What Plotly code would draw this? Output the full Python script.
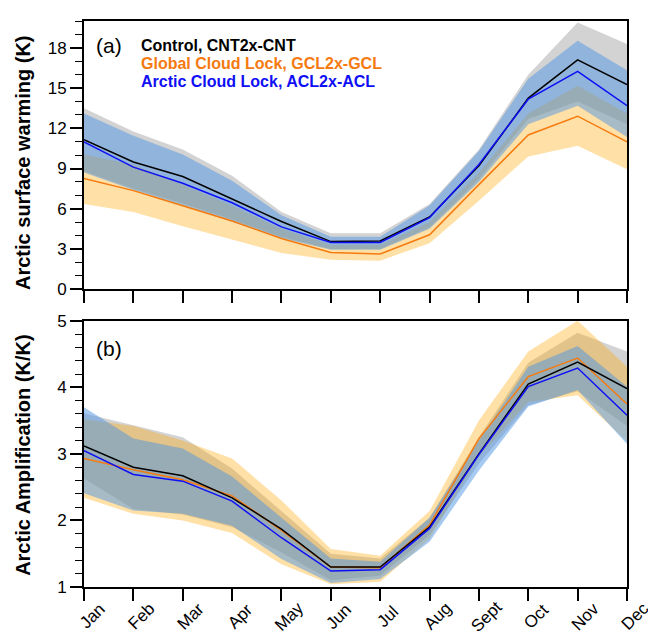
import plotly.graph_objects as go

months = ["Jan", "Feb", "Mar", "Apr", "May", "Jun", "Jul", "Aug", "Sept", "Oct", "Nov", "Dec"]
x = list(range(len(months)))

# Panel (a): Arctic surface warming (K)
cnt_a = [11.15, 9.49, 8.4, 6.75, 5.05, 3.55, 3.6, 5.39, 9.2, 14.25, 17.1, 15.25]
acl_a = [10.98, 9.1, 7.9, 6.45, 4.65, 3.48, 3.48, 5.34, 9.3, 14.17, 16.25, 13.68]
gcl_a = [8.26, 7.35, 6.22, 5.08, 3.78, 2.74, 2.62, 4.06, 7.8, 11.5, 12.9, 10.98]

cnt_a_hi = [13.5, 11.76, 10.42, 8.46, 5.76, 4.17, 4.17, 6.35, 10.42, 16.0, 19.88, 18.28]
cnt_a_lo = [8.8, 7.5, 6.4, 5.2, 3.9, 3.0, 3.0, 4.6, 8.2, 12.7, 14.0, 12.3]
acl_a_hi = [13.1, 11.45, 10.05, 8.09, 5.51, 3.92, 3.92, 6.25, 10.3, 15.7, 18.53, 16.32]
acl_a_lo = [8.7, 7.4, 6.25, 5.05, 3.8, 2.94, 2.94, 4.5, 8.0, 12.3, 13.68, 11.35]
gcl_a_hi = [10.05, 9.3, 7.8, 6.25, 4.5, 3.31, 3.31, 5.02, 8.7, 13.1, 15.17, 13.1]
gcl_a_lo = [6.35, 5.76, 4.7, 3.68, 2.7, 2.2, 2.13, 3.43, 6.6, 9.9, 10.69, 8.95]

# Panel (b): Arctic Amplification (K/K)
cnt_b = [3.12, 2.80, 2.67, 2.34, 1.87, 1.30, 1.30, 1.90, 3.0, 4.05, 4.38, 3.98]
gcl_b = [2.93, 2.76, 2.61, 2.37, 1.85, 1.30, 1.29, 1.93, 3.23, 4.16, 4.44, 3.75]
acl_b = [3.05, 2.69, 2.59, 2.29, 1.74, 1.24, 1.26, 1.88, 2.99, 4.01, 4.29, 3.58]

cnt_b_hi = [3.61, 3.43, 3.25, 2.78, 2.14, 1.50, 1.43, 2.04, 3.25, 4.37, 4.82, 4.54]
cnt_b_lo = [2.63, 2.17, 2.09, 1.90, 1.52, 1.10, 1.17, 1.78, 2.85, 3.73, 3.94, 3.42]
gcl_b_hi = [3.52, 3.42, 3.20, 2.93, 2.30, 1.57, 1.47, 2.14, 3.50, 4.54, 5.0, 4.31]
gcl_b_lo = [2.34, 2.10, 2.00, 1.81, 1.34, 1.04, 1.08, 1.72, 2.96, 3.78, 3.88, 3.19]
acl_b_hi = [3.70, 3.23, 3.08, 2.66, 2.04, 1.43, 1.38, 2.04, 3.20, 4.31, 4.62, 4.01]
acl_b_lo = [2.41, 2.15, 2.10, 1.92, 1.42, 1.06, 1.12, 1.68, 2.75, 3.71, 3.96, 3.15]

GRAY_FILL = "rgba(128,128,128,0.35)"
ORANGE_FILL = "rgba(255,165,0,0.35)"
BLUE_FILL = "rgba(78,150,228,0.5)"
BLACK = "black"
ORANGE = "rgb(245,122,15)"
BLUE = "rgb(15,15,245)"

FONT = "Liberation Sans, Arial, Helvetica, sans-serif"

fig = go.Figure()


def band(lo, hi, color, xa, ya):
    fig.add_trace(go.Scatter(x=x, y=lo, mode="lines", line=dict(width=0), hoverinfo="skip",
                             showlegend=False, xaxis=xa, yaxis=ya))
    fig.add_trace(go.Scatter(x=x, y=hi, mode="lines", line=dict(width=0), fill="tonexty",
                             fillcolor=color, hoverinfo="skip", showlegend=False, xaxis=xa, yaxis=ya))


def line(y, color, xa, ya):
    fig.add_trace(go.Scatter(x=x, y=y, mode="lines", line=dict(color=color, width=1.5),
                             showlegend=False, xaxis=xa, yaxis=ya))


band(cnt_a_lo, cnt_a_hi, GRAY_FILL, "x", "y")
band(gcl_a_lo, gcl_a_hi, ORANGE_FILL, "x", "y")
band(acl_a_lo, acl_a_hi, BLUE_FILL, "x", "y")
line(gcl_a, ORANGE, "x", "y")
line(cnt_a, BLACK, "x", "y")
line(acl_a, BLUE, "x", "y")

band(cnt_b_lo, cnt_b_hi, GRAY_FILL, "x2", "y2")
band(gcl_b_lo, gcl_b_hi, ORANGE_FILL, "x2", "y2")
band(acl_b_lo, acl_b_hi, BLUE_FILL, "x2", "y2")
line(gcl_b, ORANGE, "x2", "y2")
line(cnt_b, BLACK, "x2", "y2")
line(acl_b, BLUE, "x2", "y2")

H = 635
W = 648
MT, MB, ML, MR = 13, 48, 84, 21
PH = H - MT - MB
PW = W - ML - MR


def py(pix):
    return (H - MB - pix) / PH


def px(pix):
    return (pix - ML) / PW


xaxis_common = dict(range=[0, 11], tickvals=x, showticklabels=False, ticks="outside", ticklen=12,
                    tickwidth=1.5, tickcolor="black", showline=True, linewidth=2, linecolor="black",
                    mirror=True, showgrid=False, zeroline=False, fixedrange=True)

yaxis_common = dict(ticks="outside", ticklen=12, tickwidth=1.5, tickcolor="black", showline=True,
                    linewidth=2, linecolor="black", mirror=True, showgrid=False, zeroline=False,
                    tickfont=dict(family=FONT, size=17, color="black"))

fig.update_layout(
    width=W, height=H,
    margin=dict(l=ML, r=MR, t=MT, b=MB),
    paper_bgcolor="white", plot_bgcolor="white",
    font=dict(family=FONT, color="black"),
    xaxis=dict(domain=[0, 1], anchor="y", **xaxis_common),
    xaxis2=dict(domain=[0, 1], anchor="y2", **xaxis_common),
    yaxis=dict(domain=[py(285), 1.0], range=[0, 20], tick0=0, dtick=3,
               minor=dict(ticks="outside", ticklen=7, tickwidth=1, tickcolor="black", dtick=1, tick0=0),
               **yaxis_common),
    yaxis2=dict(domain=[0, py(317)], range=[1, 5], tick0=1, dtick=1,
                minor=dict(ticks="outside", ticklen=7, tickwidth=1, tickcolor="black", dtick=0.2, tick0=1),
                **yaxis_common),
)

ann = []
ann.append(dict(text="<b>Arctic surface warming (K)</b>", xref="paper", yref="paper",
                x=px(23), y=py(157), xanchor="center", yanchor="middle", textangle=-90,
                showarrow=False, font=dict(family=FONT, size=20, color="black")))
ann.append(dict(text="<b>Arctic Amplification (K/K)</b>", xref="paper", yref="paper",
                x=px(23), y=py(453), xanchor="center", yanchor="middle", textangle=-90,
                showarrow=False, font=dict(family=FONT, size=20, color="black")))
ann.append(dict(text="(a)", xref="paper", yref="paper", x=px(94), y=py(38),
                xanchor="left", yanchor="middle", showarrow=False,
                font=dict(family=FONT, size=21, color="black")))
ann.append(dict(text="(b)", xref="paper", yref="paper", x=px(94), y=py(345),
                xanchor="left", yanchor="middle", showarrow=False,
                font=dict(family=FONT, size=21, color="black")))
legend_items = [("Control, CNT2x-CNT", BLACK, 38), ("Global Cloud Lock, GCL2x-GCL", ORANGE, 56),
                ("Arctic Cloud Lock, ACL2x-ACL", BLUE, 74)]
for txt, col, yy in legend_items:
    ann.append(dict(text="<b>" + txt + "</b>", xref="paper", yref="paper", x=px(139), y=py(yy),
                    xanchor="left", yanchor="middle", showarrow=False,
                    font=dict(family=FONT, size=16, color=col)))
for i, m in enumerate(months):
    ann.append(dict(text=m, xref="x2", yref="paper", x=i, y=py(617), xshift=8,
                    xanchor="center", yanchor="middle", textangle=-45, showarrow=False,
                    font=dict(family=FONT, size=17, color="black")))
fig.update_layout(annotations=ann)

fig.write_html("out.html")
